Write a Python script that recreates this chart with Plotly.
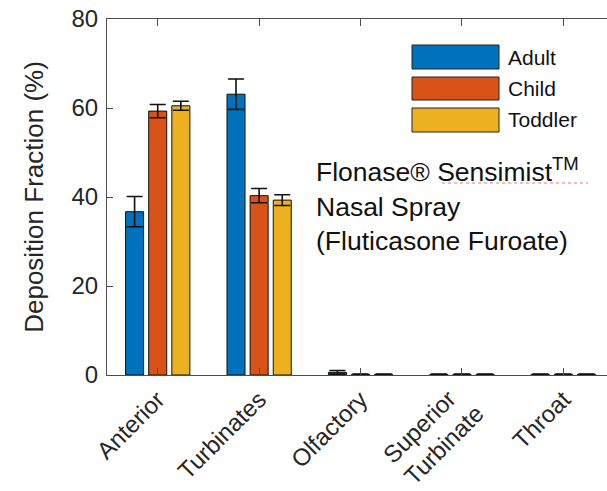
import plotly.graph_objects as go

categories = ["Anterior", "Turbinates", "Olfactory", "Superior Turbinate", "Throat"]
tick_labels = ["Anterior", "Turbinates", "Olfactory", "", "Throat"]
# two-line label drawn as separate rotated lines (tighter line spacing, as in the reference)
two_line_label = {"Superior Turbinate": ["Superior", "Turbinate"]}
series_names = ["Adult", "Child", "Toddler"]
adult = [36.7, 63.1, 0.6, 0.15, 0.15]
adult_err = [3.4, 3.4, 0.4, 0.05, 0.05]
child = [59.3, 40.3, 0.15, 0.15, 0.15]
child_err = [1.5, 1.6, 0.05, 0.05, 0.05]
toddler = [60.5, 39.3, 0.15, 0.15, 0.15]
toddler_err = [1.0, 1.2, 0.05, 0.05, 0.05]
colors = ["#0072BD", "#D95319", "#EDB120"]
y_ticks = [0, 20, 40, 60, 80]

FONT = "Arial, Liberation Sans, sans-serif"
TXT = "#262626"
AX = "#4d4d4d"

fig = go.Figure()
for name, vals, errs, col in zip(series_names, [adult, child, toddler],
                                 [adult_err, child_err, toddler_err], colors):
    fig.add_trace(go.Bar(
        x=categories, y=vals, name=name,
        marker=dict(color=col, line=dict(color="#111111", width=1)),
        error_y=dict(type="data", array=errs, visible=True,
                     color="#111111", thickness=1.6, width=8),
        showlegend=False,
    ))

W, H = 607, 491
L, R, T, B = 107, 0, 19, 116
pw, ph = W - L - R, H - T - B
def px(x):
    return (x - L) / pw
def py(y):
    return (H - B - y) / ph

# custom legend (large swatches like the reference)
swatch_rows = [(45, 69), (77, 100), (108, 132)]
for (y0, y1), name, col in zip(swatch_rows, series_names, colors):
    fig.add_shape(type="rect", xref="paper", yref="paper",
                  x0=px(412), x1=px(499), y0=py(y1), y1=py(y0),
                  fillcolor=col, line=dict(color="#222222", width=1))
    fig.add_annotation(xref="paper", yref="paper", x=px(506), y=py((y0 + y1) / 2),
                       text=name, showarrow=False, xanchor="left", yanchor="middle",
                       font=dict(family=FONT, size=21, color="#111111"))

fig.add_annotation(xref="paper", yref="paper", x=px(314), y=py(151),
                   text="Flonase® Sensimist<sup>TM</sup><br>Nasal Spray<br>(Fluticasone Furoate)",
                   showarrow=False, xanchor="left", yanchor="top", align="left",
                   font=dict(family=FONT, size=26.5, color="#111111"))
# spell-check style underline under "Sensimist"
fig.add_shape(type="line", xref="paper", yref="paper",
              x0=px(442), x1=px(588), y0=py(183), y1=py(183),
              line=dict(color="#e77a7a", width=1, dash="dot"))

line_offsets = [(2, 382), (30, 396)]
for cat, lines in two_line_label.items():
    for txt, (dx, ytop) in zip(lines, line_offsets):
        fig.add_annotation(xref="x", yref="paper", x=cat, y=py(ytop), xshift=dx,
                           text=txt, textangle=-45, showarrow=False,
                           xanchor="right", yanchor="top",
                           font=dict(family=FONT, size=24, color=TXT))

fig.update_layout(
    width=W, height=H,
    margin=dict(l=L, r=R, t=T, b=B, autoexpand=False),
    paper_bgcolor="white", plot_bgcolor="white",
    barmode="group", bargap=0.316, bargroupgap=0.22,
    font=dict(family=FONT, color=TXT),
)
fig.update_xaxes(
    type="category", range=[-0.5, 4.43],
    tickvals=categories, ticktext=tick_labels,
    tickangle=-45, tickfont=dict(family=FONT, size=24, color=TXT),
    showline=True, linecolor=AX, linewidth=1, mirror="ticks",
    ticks="inside", ticklen=7, tickcolor=AX, showgrid=False,
)
fig.update_yaxes(
    range=[0, 80], tickvals=y_ticks, ticktext=[str(v) for v in y_ticks],
    tickfont=dict(family=FONT, size=24, color=TXT), ticklabelstandoff=3,
    title=dict(text="Deposition Fraction (%)", font=dict(family=FONT, size=26, color=TXT),
               standoff=20),
    showline=True, linecolor=AX, linewidth=1, mirror=False,
    ticks="inside", ticklen=6, tickcolor=AX, showgrid=False, zeroline=False,
)

fig.write_html("out.html")
